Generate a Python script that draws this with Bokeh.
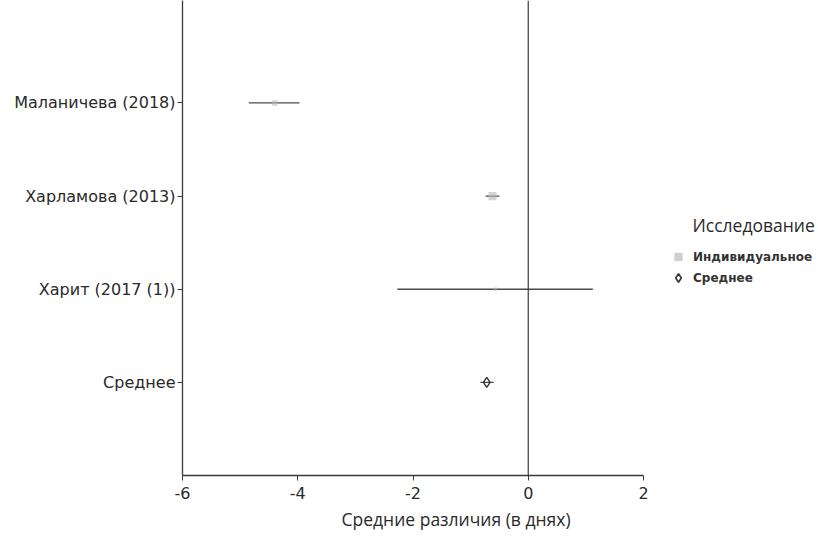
from bokeh.plotting import figure
from bokeh.layouts import row
from bokeh.models import Span, Legend, LegendItem, FixedTicker, Title, ColumnDataSource, Label
from bokeh.embed import file_html
from bokeh.resources import INLINE

# ---- data ----
studies = ["Маланичева (2018)", "Харламова (2013)", "Харит (2017 (1))"]
study_pos = [4, 3, 2]
md = [-4.40, -0.62, -0.57]
ci_lo = [-4.85, -0.74, -2.27]
ci_hi = [-3.97, -0.50, 1.12]
weight = [0.30, 0.65, 0.05]

pooled_label = "Среднее"
pooled_pos = [1]
pooled_md = [-0.72]
pooled_lo = [-0.83]
pooled_hi = [-0.60]

x_ticks = [-6, -4, -2, 0, 2]
x_tick_labels = ["-6", "-4", "-2", "0", "2"]
x_label = "Средние различия (в днях)"
legend_title = "Исследование"
legend_labels = ["Индивидуальное", "Среднее"]

TICK_FONT = "DejaVu Sans"
LABEL_FONT = "Open Sans"
AX = "#3a3a3a"
SQ_COLOR = "#b8b8b8"

p = figure(width=660, height=540, x_range=(-6, 2), y_range=(0, 5.1),
           output_backend="svg", toolbar_location=None,
           min_border_left=182, min_border_right=17,
           min_border_top=0, min_border_bottom=65)
p.outline_line_color = None
p.grid.visible = False

src = ColumnDataSource(dict(y=study_pos, md=md, lo=ci_lo, hi=ci_hi,
                            size=[3 + 8 * w for w in weight]))

p.add_layout(Span(location=0, dimension="height", line_color=AX, line_width=1.2))

p.segment(x0="lo", x1="hi", y0="y", y1="y", source=src, line_color="#4a4a4a", line_width=1.3)
p.scatter(x="md", y="y", size="size", marker="square", source=src,
          fill_color=SQ_COLOR, line_color=None, fill_alpha=0.6)

p.segment(x0=pooled_lo, x1=pooled_hi, y0=pooled_pos, y1=pooled_pos, line_color="#4a4a4a", line_width=1.3)
p.scatter(x=pooled_md, y=pooled_pos, marker="diamond", size=10,
          fill_color="white", fill_alpha=0.0, line_color="#333333", line_width=1.4)

# axes
p.xaxis.ticker = FixedTicker(ticks=x_ticks)
p.xaxis.major_label_overrides = {t: s for t, s in zip(x_ticks, x_tick_labels)}
p.yaxis.ticker = FixedTicker(ticks=[pooled_pos[0]] + study_pos)
p.yaxis.major_label_overrides = {**{pos: s for pos, s in zip(study_pos, studies)}, pooled_pos[0]: pooled_label}
for ax in (p.xaxis[0], p.yaxis[0]):
    ax.axis_line_color = AX
    ax.axis_line_width = 1.3
    ax.major_tick_line_color = AX
    ax.major_tick_out = 5
    ax.major_tick_in = 0
    ax.minor_tick_line_color = None
    ax.major_label_text_font = TICK_FONT
    ax.major_label_text_font_size = "16px"
    ax.major_label_text_color = "#2a2a2a"
p.xaxis.major_label_standoff = 6
p.yaxis.major_label_standoff = 2

p.add_layout(Title(text=x_label, align="left", offset=159, text_font=LABEL_FONT,
                   text_font_size="17.5px", text_font_style="normal",
                   text_color="#2a2a2a", standoff=6), "below")

# ---- legend panel ----
q = figure(width=158, height=540, x_range=(0, 1), y_range=(0, 1),
           output_backend="svg", toolbar_location=None,
           x_axis_type=None, y_axis_type=None,
           min_border_left=0, min_border_right=0, min_border_top=0, min_border_bottom=65)
q.outline_line_color = None
q.grid.visible = False
# legend proxy glyphs (their single point lies outside the visible range)
r_sq = q.scatter(x=[-5], y=[-5], marker="square", size=12, fill_color="#c4c4c4",
                 line_color=None, fill_alpha=0.8)
r_dm = q.scatter(x=[-5], y=[-5], marker="diamond", size=12, fill_color="white",
                 line_color="#333333", line_width=1.6)

legend = Legend(items=[LegendItem(label=legend_labels[0], renderers=[r_sq]),
                       LegendItem(label=legend_labels[1], renderers=[r_dm])],
                location=(4, 187),
                label_text_font=TICK_FONT, label_text_font_size="12px",
                label_text_font_style="bold",
                label_text_color="#333333", label_height=21,
                glyph_width=28, glyph_height=21, spacing=0, label_standoff=1,
                border_line_color=None, background_fill_alpha=0,
                margin=0, padding=0)
q.add_layout(legend)
q.add_layout(Label(x=32, y=251, x_units="screen", y_units="screen", text=legend_title,
                   text_font=LABEL_FONT, text_font_size="17.5px", text_color="#2a2a2a",
                   text_baseline="alphabetic"))

layout = row(p, q)
open("out.html", "w").write(file_html(layout, INLINE))
